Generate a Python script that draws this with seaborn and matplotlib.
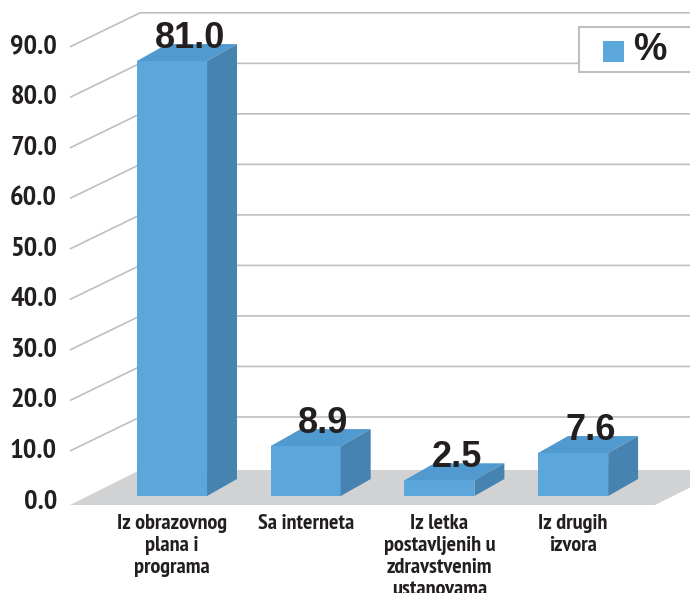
import matplotlib
matplotlib.use("Agg")
import matplotlib.pyplot as plt
from matplotlib.patches import Polygon, Rectangle
import pandas as pd
import seaborn as sns

# data
categories = ["Iz obrazovnog\nplana i\nprograma",
              "Sa interneta",
              "Iz letka\npostavljenih u\nzdravstvenim\nustanovama",
              "Iz drugih\nizvora"]
values = [81.0, 8.9, 2.5, 7.6]
grid_values = [0, 10, 20, 30, 40, 50, 60, 70, 80, 90]
tick_labels = [f"{g:.1f}" for g in grid_values]
series_name = "%"

# colours
front_col = "#5BA7DC"
top_col = "#509ACF"
side_col = "#4683B1"
floor_col = "#D1D2D4"
grid_col = "#BFBFBF"
text_col = "#231F20"

narrow = ['PT Sans Narrow', 'DejaVu Sans']
wide = ['Liberation Sans', 'DejaVu Sans']

sns.set_style("white")
plt.rcParams['font.family'] = narrow

fig = plt.figure(figsize=(6.9, 5.93), dpi=100)
ax = fig.add_axes([0, 0, 1, 1])

df = pd.DataFrame({'cat': categories, 'val': values})
sns.barplot(data=df, x='cat', y='val', color=front_col, saturation=1,
            width=0.524, ax=ax)

# "3d" geometry, in data units
grid_k = 0.946       # wall value -> plot y
grid_y0 = -1.48      # front plane zero
wall_x = -0.763      # front-left corner
depth_x = 0.524
depth_y = 6.37
side_x = 0.224
side_y = 3.18
floor_y = -2.13
floor_dy = 6.55
floor_right = 3.613
xlim = (-1.2865, 3.8743)
ylim = (-18.61, 92.43)

# floor
ax.add_patch(Polygon([(wall_x, floor_y), (floor_right, floor_y),
                      (floor_right + depth_x, floor_y + floor_dy),
                      (wall_x + depth_x, floor_y + floor_dy)],
                     closed=True, facecolor=floor_col, edgecolor='none', zorder=0.5))

# gridlines on side and back walls
for g, lab in zip(grid_values, tick_labels):
    y = grid_y0 + grid_k * g
    if g > 0:
        ax.plot([wall_x, wall_x + depth_x, xlim[1] + 0.1],
                [y, y + depth_y, y + depth_y],
                color=grid_col, lw=1.2, zorder=0.8, solid_capstyle='butt')
    ax.text(wall_x - 0.097, y, lab, ha='right', va='center',
            fontsize=20.5, fontweight='bold', color=text_col)

# bar tops and sides, plus value labels
for p, v in zip(ax.patches, values):
    x0 = p.get_x()
    w = p.get_width()
    h = p.get_height()
    x1 = x0 + w
    bottom = -0.45
    p.set_y(bottom)
    p.set_height(h - bottom)
    p.set_edgecolor('none')
    p.set_zorder(3)
    ax.add_patch(Polygon([(x0, h), (x1, h), (x1 + side_x, h + side_y), (x0 + side_x, h + side_y)],
                         closed=True, facecolor=top_col, edgecolor='none', zorder=3))
    ax.add_patch(Polygon([(x1, bottom), (x1 + side_x, bottom + side_y),
                          (x1 + side_x, h + side_y), (x1, h)],
                         closed=True, facecolor=side_col, edgecolor='none', zorder=3))
    ax.text(x0 + w / 2 + side_x / 2 + 0.02, h + 2.4, f"{v:.1f}",
            ha='center', va='baseline', fontsize=26, fontweight='bold',
            color=text_col, family=wide, zorder=5)

# category labels
for i, c in enumerate(categories):
    ax.text(i, -3.9, c, ha='center', va='top', fontsize=16,
            fontweight='bold', color=text_col, linespacing=1.2)

# legend box, drawn by hand (it runs off the right edge in the original)
fig.patches.append(Rectangle((579 / 690, 1 - 72 / 593), 0.2, 45 / 593,
                             transform=fig.transFigure, facecolor='white',
                             edgecolor=grid_col, lw=1.5, zorder=6))
fig.patches.append(Rectangle((603 / 690, 1 - 62 / 593), 21 / 690, 21 / 593,
                             transform=fig.transFigure, facecolor=front_col,
                             edgecolor='none', zorder=7))
fig.text(633 / 690, 1 - 50 / 593, series_name, ha='left', va='center',
         fontsize=27, fontweight='bold', color=text_col, family=wide, zorder=8)

ax.set_xlim(*xlim)
ax.set_ylim(*ylim)
ax.set_axis_off()

fig.savefig('out.png', dpi=100)
